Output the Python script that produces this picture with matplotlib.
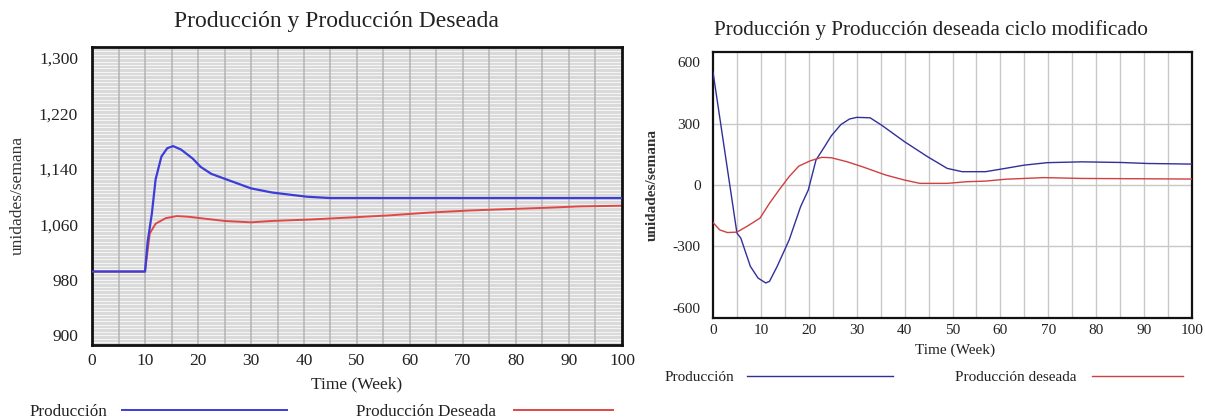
import matplotlib
matplotlib.use("Agg")
import matplotlib.pyplot as plt
from matplotlib.lines import Line2D
from matplotlib.ticker import FuncFormatter
import numpy as np

plt.rcParams.update({
    "font.family": ["Liberation Serif", "DejaVu Serif"],
    "axes.unicode_minus": False,
})

# ---- data: base cycle (left)
t_prod = [0, 10, 10.5, 11.3, 12, 13.1, 14.2, 15.3, 16.8, 19, 20.5, 22.5, 25.7, 30, 34, 40.5, 45, 100]
prod = [992, 992, 1035, 1076, 1125, 1158, 1170, 1173, 1168, 1155, 1143, 1133, 1124, 1112, 1106, 1100, 1098, 1098]
t_des = [0, 10, 10.9, 12, 13.9, 16, 18.3, 20.5, 25, 30, 34, 41, 48.7, 56, 63.5, 71, 78, 85.7, 92, 100]
prod_des = [992, 992, 1047, 1061, 1069, 1072, 1071, 1069, 1065, 1063, 1065, 1067, 1070, 1073, 1077, 1080, 1082, 1084, 1086, 1087]

# ---- data: modified cycle (right)
t_mod = [0, 5, 5.8, 7.8, 9.4, 11, 11.8, 13.4, 15.9, 18.3, 19.9, 21.5, 23.1, 24.7, 26.7, 28.5, 30,
         32.8, 35.2, 40, 44.8, 48.9, 52, 56.9, 61, 65, 69.8, 77, 85, 90.7, 100]
prod_mod = [551, -235, -259, -397, -454, -478, -470, -397, -268, -105, -24, 122, 180, 240, 295, 322, 330,
            328, 292, 211, 138, 81, 65, 65, 81, 97, 109, 113, 110, 105, 102]
t_dmod = [0, 1.4, 3, 5, 7, 9.8, 11.8, 13.8, 15.9, 17.9, 20.3, 22.7, 24.7, 27.9, 31.2, 36, 40, 43.2,
          48.9, 52.9, 56.9, 61, 69, 77, 100]
des_mod = [-183, -219, -232, -230, -203, -162, -89, -24, 41, 92, 118, 135, 133, 114, 89, 49, 24, 8,
           8, 16, 19, 28, 36, 32, 29]

W, H = 1205, 419
fig = plt.figure(figsize=(W / 100, H / 100), dpi=100)


def fx(px):
    return px / W


def fy(py):
    return 1 - py / H


BLUE_L, RED_L = "#3c3cd8", "#e04848"
BLUE_R, RED_R = "#30309a", "#d04040"

# ---- left chart
ax1 = fig.add_axes([fx(92), fy(345), (622 - 92) / W, (345 - 47) / H])
ax1.set_facecolor("#d9d9d9")
ax1.set_xlim(0, 100)
ax1.set_ylim(886, 1316)
for yv in np.arange(890, 1316, 5):
    ax1.axhline(yv, color="#f4f4f4", lw=0.8, zorder=0)
for xv in range(5, 100, 5):
    ax1.axvline(xv, color="#b4b4b4", lw=1.1, zorder=1)
ax1.plot(t_des, prod_des, color=RED_L, lw=1.4, zorder=2)
ax1.plot(t_prod, prod, color=BLUE_L, lw=1.6, zorder=3)
ax1.set_xticks(range(0, 101, 10))
ax1.set_yticks([900, 980, 1060, 1140, 1220, 1300])
ax1.yaxis.set_major_formatter(FuncFormatter(lambda v, p: f"{int(v):,}"))
ax1.tick_params(length=0, labelsize=12.5, colors="#222222")
ax1.tick_params(axis="y", pad=10)
ax1.tick_params(axis="x", pad=6)
for s in ax1.spines.values():
    s.set_linewidth(2.0)
    s.set_color("#111111")
fig.text(fx(336), fy(22), "Producción y Producción Deseada", ha="center", va="center",
         fontsize=17, color="#222222")
fig.text(fx(18), fy(195), "unidades/semana", ha="center", va="center", rotation=90,
         fontsize=12.5, color="#333333")
fig.text(fx(357), fy(384), "Time (Week)", ha="center", va="center", fontsize=12.5, color="#222222")
fig.text(fx(30), fy(412), "Producción", ha="left", va="center", fontsize=12.3, color="#222222")
fig.add_artist(Line2D([fx(122), fx(287)], [fy(410), fy(410)], color=BLUE_L, lw=1.4))
fig.text(fx(356), fy(412), "Producción Deseada", ha="left", va="center", fontsize=12.3, color="#222222")
fig.add_artist(Line2D([fx(514), fx(613)], [fy(410), fy(410)], color=RED_L, lw=1.4))

# ---- right chart
ax2 = fig.add_axes([fx(713), fy(318), (1192 - 713) / W, (318 - 52) / H])
ax2.set_facecolor("white")
ax2.set_xlim(0, 100)
ax2.set_ylim(-649, 649)
for xv in range(5, 100, 5):
    ax2.axvline(xv, color="#c8c8c8", lw=1.0, zorder=0)
for yv in [-300, 0, 300]:
    ax2.axhline(yv, color="#c8c8c8", lw=1.0, zorder=0)
ax2.plot(t_mod, prod_mod, color=BLUE_R, lw=1.0, zorder=3)
ax2.plot(t_dmod, des_mod, color=RED_R, lw=1.0, zorder=3)
ax2.set_xticks(range(0, 101, 10))
ax2.set_yticks([-600, -300, 0, 300, 600])
ax2.tick_params(length=0, labelsize=11, colors="#222222")
ax2.tick_params(axis="y", pad=9)
ax2.tick_params(axis="x", pad=4)
for s in ax2.spines.values():
    s.set_linewidth(1.6)
    s.set_color("#111111")
fig.text(fx(931), fy(30), "Producción y Producción deseada ciclo modificado", ha="center", va="center",
         fontsize=15.2, color="#222222")
fig.text(fx(652), fy(185), "unidades/semana", ha="center", va="center", rotation=90,
         fontsize=11, fontweight="bold", color="#333333")
fig.text(fx(955), fy(350), "Time (Week)", ha="center", va="center", fontsize=11, color="#222222")
fig.text(fx(665), fy(377), "Producción", ha="left", va="center", fontsize=11, color="#222222")
fig.add_artist(Line2D([fx(747), fx(893)], [fy(376), fy(376)], color=BLUE_R, lw=1.0))
fig.text(fx(955), fy(377), "Producción deseada", ha="left", va="center", fontsize=11, color="#222222")
fig.add_artist(Line2D([fx(1092), fx(1183)], [fy(376), fy(376)], color=RED_R, lw=1.0))

fig.savefig("out.png", dpi=100)
